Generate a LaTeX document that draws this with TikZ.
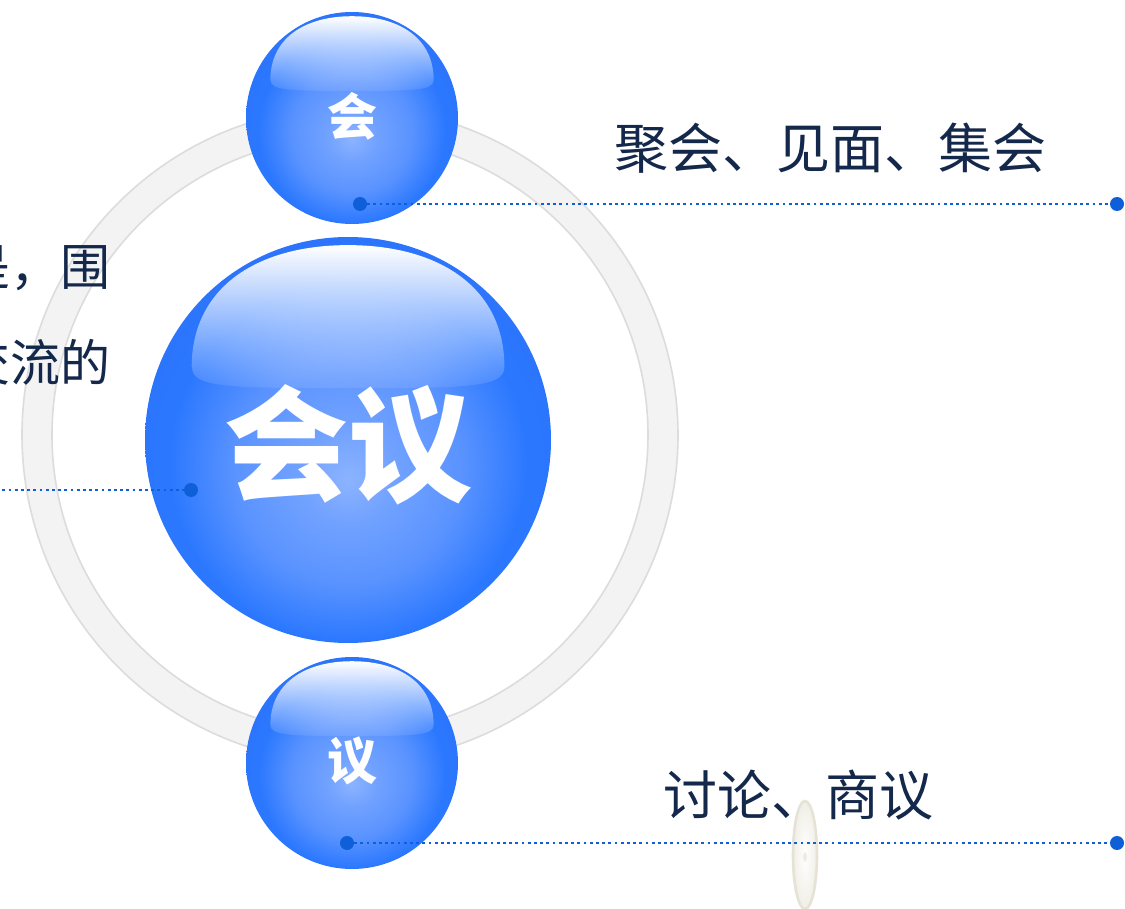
\documentclass[tikz,border=0pt]{standalone}
\usepackage{fontspec}
\setmainfont{Noto Sans CJK SC}
\usetikzlibrary{fadings,shapes.geometric}
\definecolor{sphA}{HTML}{8CB3FF}
\definecolor{sphB}{HTML}{5A93FF}
\definecolor{sphC}{HTML}{2B78FF}
\definecolor{sphD}{HTML}{2C72FA}
\definecolor{txt}{HTML}{14284B}
\definecolor{lnk}{HTML}{0E5FD8}
\definecolor{ringfill}{HTML}{F3F3F3}
\definecolor{ringedge}{HTML}{DCDCDC}
\definecolor{ecol}{HTML}{E6E3D6}
\pgfdeclareradialshading{sph}{\pgfpoint{0bp}{-5bp}}{color(0bp)=(sphA); color(6bp)=(sphB!55!sphA); color(14bp)=(sphB); color(22bp)=(sphC); color(30bp)=(sphD); color(50bp)=(sphD)}
\tikzfading[name=hlfade, top color=transparent!0, bottom color=transparent!92]
\tikzset{
  sphere/.style={circle, inner sep=0pt, shading=sph, draw=none},
  hilite/.style={white, path fading=hlfade, fit fading=true},
  dotnode/.style={circle, fill=lnk, inner sep=0pt, minimum size=14pt},
  link/.style={lnk, line width=2.5pt, dash pattern=on 2.8pt off 3.4pt},
  label/.style={text=txt, font=\fontsize{54}{60}\selectfont, inner sep=0pt},
  sidelabel/.style={text=txt, font=\fontsize{50}{56}\selectfont, inner sep=0pt, anchor=east},
  spheretext/.style={text=white, font=\bfseries, inner sep=0pt},
}
\newcommand{\hlpath}{(-0.77,-0.36) .. controls (-0.77,-0.75) and (-0.45,-0.96) .. (0,-0.96) .. controls (0.45,-0.96) and (0.77,-0.75) .. (0.77,-0.36) .. controls (0.77,-0.26) and (0.6,-0.255) .. (0,-0.255) .. controls (-0.6,-0.255) and (-0.77,-0.26) .. cycle}
\begin{document}
\begin{tikzpicture}[x=1pt,y=-1pt]
\useasboundingbox (0,0) rectangle (1125,909);
\clip (0,0) rectangle (1125,909);
\fill[white] (0,0) rectangle (1125,909);
% ring
\fill[ringfill, even odd rule] (350,435) circle (328) (350,435) circle (298);
\draw[ringedge, line width=1.6pt] (350,435) circle (328);
\draw[ringedge, line width=1.6pt] (350,435) circle (298);
% left text (cut off at the picture's left edge, as in the reference)
\node[sidelabel] (lt1) at (111,268) {是，围};
\node[sidelabel] (lt2) at (111,362) {交流的};
% spheres
\node[sphere, minimum size=212pt] (top) at (352,118) {};
\node[sphere, minimum size=406pt] (big) at (348,440) {};
\node[sphere, minimum size=212pt] (bot) at (352,763) {};
\begin{scope}[shift={(top.center)}, scale=106]
  \fill[hilite] \hlpath;
\end{scope}
\begin{scope}[shift={(big.center)}, scale=203]
  \fill[hilite] \hlpath;
\end{scope}
\begin{scope}[shift={(bot.center)}, scale=106]
  \fill[hilite] \hlpath;
\end{scope}
\node[spheretext, font=\bfseries\fontsize{50}{56}\selectfont] (toptxt) at (352,116) {会};
\node[spheretext, font=\bfseries\fontsize{124}{130}\selectfont] (bigtxt) at (348,445) {会议};
\node[spheretext, font=\bfseries\fontsize{50}{56}\selectfont] (bottxt) at (352,761) {议};
% bottom ellipse decoration
\node[ellipse, draw=ecol, line width=2.6pt, inner color=white, outer color=ecol!60, minimum width=24pt, minimum height=108pt, inner sep=0pt] (oval) at (805,855) {};
\node[ellipse, fill=ecol!70, minimum width=4pt, minimum height=10pt, inner sep=0pt] (ovalc) at (805,857) {};
% connectors
\node[dotnode] (d1a) at (360,204) {};
\node[dotnode] (d1b) at (1117,204) {};
\node[dotnode] (d2a) at (347,843) {};
\node[dotnode] (d2b) at (1117,843) {};
\node[dotnode] (d3) at (191,490) {};
\coordinate (d3l) at (-10,490);
\draw[link] (d1a) -- (d1b);
\draw[link] (d2a) -- (d2b);
\draw[link] (d3l) -- (d3);
% labels
\node[label] (lab1) at (830,148) {聚会、见面、集会};
\node[label] (lab2) at (798,795) {讨论、商议};
\end{tikzpicture}
\end{document}
